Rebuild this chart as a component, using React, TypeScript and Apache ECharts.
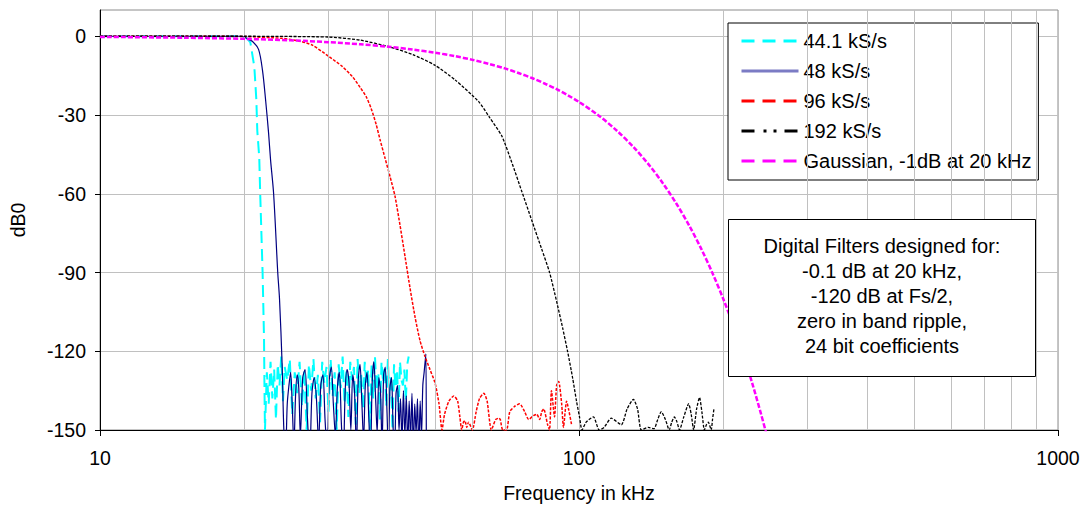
import React, { useEffect, useRef } from "react";
import * as echarts from "echarts";

const FONT = "'Liberation Sans', Arial, Helvetica, sans-serif";

// Axis ticks
const yTickValues = [-150, -120, -90, -60, -30, 0];
const minorFreqs = [20, 30, 40, 50, 60, 70, 80, 90, 200, 300, 400, 500, 600, 700, 800, 900];

const names = ["44.1 kS/s", "48 kS/s", "96 kS/s", "192 kS/s", "Gaussian, -1dB at 20 kHz"];

const noteLines = [
  "Digital Filters designed for:",
  "-0.1 dB at 20 kHz,",
  "-120 dB at Fs/2,",
  "zero in band ripple,",
  "24 bit coefficients",
];

// Frequency (kHz), response (dB)
const resp441: [number, number][] = [
  [10, 0], [15, 0], [19, 0], [20, -0.1], [20.2, -0.5], [20.6, -2.3], [21.0, -11.7], [21.2, -24],
  [21.3, -36], [21.5, -46], [21.6, -60], [21.85, -90], [22.0, -115], [22.05, -135],
  [22.1, -150], [22.3, -128], [22.5, -140], [22.7, -124], [22.9, -138], [23.1, -127], [23.3, -146],
  [23.5, -125], [23.7, -133], [23.9, -122], [24.1, -139], [24.3, -126], [24.6, -131], [24.9, -123],
  [25.2, -144], [25.5, -128], [25.8, -136], [26.1, -124], [26.4, -141], [26.7, -127], [27.0, -150],
  [27.3, -125], [27.6, -135], [27.9, -123], [28.2, -138], [28.5, -129], [28.8, -147], [29.1, -124],
  [29.4, -132], [29.7, -126], [30.0, -143], [30.3, -123], [30.6, -137], [30.9, -128], [31.2, -150],
  [31.5, -125], [31.8, -134], [32.1, -122], [32.4, -140], [32.7, -127], [33.0, -145], [33.3, -124],
  [33.6, -131], [33.9, -126], [34.2, -148], [34.5, -123], [34.8, -136], [35.1, -129], [35.4, -142],
  [35.7, -124], [36.0, -133], [36.3, -127], [36.6, -150], [36.9, -125], [37.2, -138], [37.5, -122],
  [37.8, -135], [38.1, -128], [38.4, -146], [38.7, -124], [39.0, -132], [39.3, -126], [39.6, -141],
  [39.9, -123], [40.2, -137], [40.5, -129], [40.8, -150], [41.1, -125], [41.4, -134], [41.7, -127],
  [42.0, -143], [42.3, -124], [42.6, -131], [42.9, -133], [43.2, -127], [43.5, -139], [43.8, -125],
  [44.1, -122],
];

const resp48: [number, number][] = [
  [10, 0], [15, 0], [19.5, 0], [20, -0.3], [20.33, -1], [20.82, -2], [21.43, -5], [21.84, -13],
  [22.16, -24], [22.49, -37], [22.7, -47], [23.04, -60], [23.5, -90], [23.7, -100], [24.0, -125],
  [24.2, -150], [24.4, -158], [24.6, -140], [24.8, -133], [25.0, -128], [25.2, -141], [25.4, -156],
  [25.6, -137], [25.8, -129], [26.0, -134], [26.2, -152], [26.5, -130], [26.8, -127], [27.1, -145],
  [27.4, -160], [27.7, -136], [28.0, -130], [28.3, -138], [28.6, -155], [28.9, -133], [29.2, -129],
  [29.5, -146], [29.8, -158], [30.1, -131], [30.4, -126], [30.7, -140], [31.0, -152], [31.3, -134],
  [31.6, -128], [31.9, -147], [32.2, -161], [32.5, -135], [32.8, -127], [33.1, -132], [33.4, -150],
  [33.7, -129], [34.0, -136], [34.3, -157], [34.6, -131], [34.9, -125], [35.2, -139], [35.5, -154],
  [35.8, -133], [36.1, -128], [36.4, -145], [36.7, -159], [37.0, -132], [37.3, -124], [37.6, -137],
  [37.9, -151], [38.2, -130], [38.5, -135], [38.8, -156], [39.1, -129], [39.4, -126], [39.7, -141],
  [40.0, -158], [40.3, -134], [40.6, -130], [40.9, -148], [41.2, -162], [41.5, -136], [41.8, -133],
  [42.1, -150], [42.4, -138], [42.7, -155], [43.0, -135], [43.3, -152], [43.6, -137], [43.9, -157],
  [44.2, -139], [44.5, -153], [44.8, -136], [45.1, -158], [45.4, -140], [45.7, -151], [46.0, -138],
  [46.3, -160], [46.6, -139], [46.9, -152], [47.2, -133], [47.5, -128], [47.9, -121], [48.0, -160],
];

const resp96: [number, number][] = [
  [10, 0], [15, 0], [20, -0.1], [24, -0.8], [26, -1.8], [27.75, -3.4], [30.1, -7.8], [32.04, -11.5],
  [33.62, -15.3], [34.93, -19.5], [35.95, -23], [36.82, -27.5], [37.71, -33.5], [38.44, -39.5],
  [39.37, -46.5], [40.33, -53.5], [41.3, -61], [42.3, -72], [43.34, -84], [44.39, -96], [45.47, -107],
  [46.57, -116], [47.7, -122], [48.86, -127], [50.05, -132], [51.02, -140], [51.75, -150],
  [52.4, -144], [53.5, -139], [54.8, -137], [55.8, -139], [56.4, -145], [56.9, -150], [57.4, -147],
  [57.8, -146.5], [58.3, -149], [58.8, -147], [59.9, -150], [61.0, -143], [62.0, -138], [63.3, -136],
  [64.3, -139], [65.6, -150], [67.0, -146], [68.0, -145.5], [68.5, -146], [69.3, -150], [70.6, -150],
  [71.7, -143], [73.4, -141], [75.2, -140], [77.0, -143], [78.5, -146], [80.4, -144.5], [81.6, -144],
  [82.8, -146], [83.6, -143], [84.4, -142], [86.0, -148], [86.8, -150], [87.6, -135], [88.9, -145],
  [89.8, -133], [90.7, -131.5], [92.0, -140], [92.8, -149], [94.2, -139], [95.1, -142], [96.5, -148],
];

const resp192: [number, number][] = [
  [10, 0], [20, 0], [30, -0.3], [35, -1.5], [40.1, -4], [45, -7], [50, -11], [55.1, -16.6],
  [61.8, -25], [65.1, -31], [69.0, -38], [72.37, -48], [75.92, -59], [79.64, -70], [83.55, -81],
  [86.82, -90], [89.79, -101], [92.41, -111], [94.65, -120], [96.94, -130], [98.81, -139],
  [100.24, -145], [101.44, -150],
  [103.5, -147], [107.2, -145], [110.2, -150], [112.8, -149], [116.8, -145.5], [122.6, -148],
  [126.0, -142], [129.9, -138.3], [132.5, -142], [134.9, -150], [139.5, -149], [143.4, -149.5],
  [146.0, -146], [148.5, -143], [151.5, -146], [154.3, -150], [156.2, -147], [158.2, -145],
  [160.2, -147], [162.1, -150], [165.5, -145], [169.4, -140], [171.5, -144], [173.5, -150],
  [176.0, -142], [178.5, -137.6], [180.5, -143], [182.7, -150], [184.5, -148], [186.2, -147],
  [188.8, -150], [190.0, -146], [191.4, -141.7],
];

const respGauss: [number, number][] = [
  [10, -0.25], [15, -0.56], [20, -1], [25, -1.56], [30, -2.25], [35, -3.06], [40, -4], [45, -5.06],
  [50, -6.25], [55, -7.56], [60, -9], [65, -10.6], [70, -12.25], [75, -14.1], [80, -16], [85, -18.1],
  [90, -20.25], [95, -22.6], [100, -25], [110, -30.25], [120, -36], [130, -42.25], [140, -49],
  [150, -56.25], [160, -64], [170, -72.25], [180, -81], [190, -90.25], [200, -100], [210, -110.25],
  [220, -121], [230, -132.25], [240, -144], [246, -151.3],
];

export default function App() {
  const ref = useRef<HTMLDivElement>(null);

  useEffect(() => {
    if (!ref.current) return;
    const chart = echarts.init(ref.current, undefined, { renderer: "svg" });

    const axisText = { color: "#000", fontSize: 19.5, fontFamily: FONT };

    const dash = [13, 8];
    const hiddenSymbol = { opacity: 0 };
    const legendData = [
      { name: names[0], itemStyle: hiddenSymbol, lineStyle: { color: "#00ffff", width: 3, type: dash } },
      { name: names[1], itemStyle: hiddenSymbol, lineStyle: { color: "#7b7bc4", width: 3, type: "solid" } },
      { name: names[2], itemStyle: hiddenSymbol, lineStyle: { color: "#ff0000", width: 3, type: dash } },
      { name: names[3], itemStyle: hiddenSymbol, lineStyle: { color: "#000000", width: 3, type: [13, 9, 3, 7, 3, 8] } },
      { name: names[4], itemStyle: hiddenSymbol, lineStyle: { color: "#ff00ff", width: 3, type: dash } },
    ];

    const curve = (
      name: string,
      data: [number, number][],
      color: string,
      width: number,
      type: any,
      z: number,
      smooth: number
    ) => ({
      name,
      type: "line",
      data,
      symbol: "none",
      clip: true,
      smooth,
      z,
      lineStyle: { color, width, type },
      itemStyle: { color },
    });

    chart.setOption({
      animation: false,
      grid: {
        left: 97,
        right: 29,
        top: 10,
        bottom: 74,
        show: true,
        borderColor: "#8c8c8c",
        borderWidth: 1,
        backgroundColor: "transparent",
      },
      xAxis: {
        type: "log",
        logBase: 10,
        min: 10,
        max: 1000,
        name: "Frequency in kHz",
        nameLocation: "middle",
        nameGap: 53,
        nameTextStyle: axisText,
        axisLine: { show: true, onZero: false, lineStyle: { color: "#000", width: 1 } },
        axisTick: { show: true, inside: false, length: 6, lineStyle: { color: "#000" } },
        axisLabel: { ...axisText, margin: 18, formatter: (v: number) => String(Math.round(v)) },
        splitLine: { show: true, lineStyle: { color: "#c0c0c0", width: 1 } },
        minorTick: { show: false },
        minorSplitLine: { show: false },
      },
      yAxis: {
        type: "value",
        min: -150,
        max: 10,
        interval: 30,
        name: "dB0",
        nameLocation: "middle",
        nameGap: 72,
        nameTextStyle: axisText,
        axisLine: { show: true, onZero: false, lineStyle: { color: "#000", width: 1 } },
        axisTick: { show: true, length: 5, lineStyle: { color: "#000" }, customValues: yTickValues },
        axisLabel: {
          ...axisText,
          margin: 14,
          customValues: yTickValues,
          formatter: (v: number) => (v > 0 ? "" : String(v)),
        },
        splitLine: { show: true, lineStyle: { color: "#c0c0c0", width: 1 } },
      },
      legend: {
        show: true,
        orient: "vertical",
        left: 728,
        top: 23,
        padding: [8, 7, 9, 12],
        itemWidth: 57,
        itemHeight: 14,
        itemGap: 10,
        selectedMode: false,
        backgroundColor: "#fff",
        borderColor: "#000",
        borderWidth: 1,
        borderRadius: 0,
        textStyle: { color: "#000", fontSize: 20, fontFamily: FONT, lineHeight: 20 },
        data: legendData,
      },
      graphic: [
        {
          type: "rect",
          shape: { x: 728.5, y: 219.5, width: 307, height: 157 },
          style: { fill: "#fff", stroke: "#000", lineWidth: 1 },
          z: 20,
        },
        {
          type: "text",
          x: 882,
          y: 296,
          style: {
            text: noteLines.join("\n"),
            fontSize: 20,
            fontFamily: FONT,
            fill: "#000",
            align: "center",
            verticalAlign: "middle",
            lineHeight: 25,
          },
          z: 21,
        },
      ],
      series: [
        {
          type: "line",
          data: [],
          silent: true,
          z: 1,
          markLine: {
            silent: true,
            symbol: ["none", "none"],
            label: { show: false },
            lineStyle: { color: "#c0c0c0", width: 1, type: "solid" },
            emphasis: { disabled: true },
            data: minorFreqs.map((f) => ({ xAxis: f })),
          },
        },
        curve(names[0], resp441, "#00ffff", 2, [12, 6], 2, 0),
        curve(names[1], resp48, "#000080", 1.2, "solid", 3, 0.3),
        curve(names[2], resp96, "#ff0000", 1.5, [3, 1.5], 4, 0.2),
        curve(names[3], resp192, "#000000", 1.3, [3, 1.5], 5, 0.2),
        curve(names[4], respGauss, "#ff00ff", 2.5, [5, 2], 6, 0.3),
      ],
    });

    return () => chart.dispose();
  }, []);

  return (
    <div
      ref={ref}
      style={{ position: "absolute", left: 0, top: 0, width: 1087, height: 508, background: "#fff" }}
    />
  );
}
